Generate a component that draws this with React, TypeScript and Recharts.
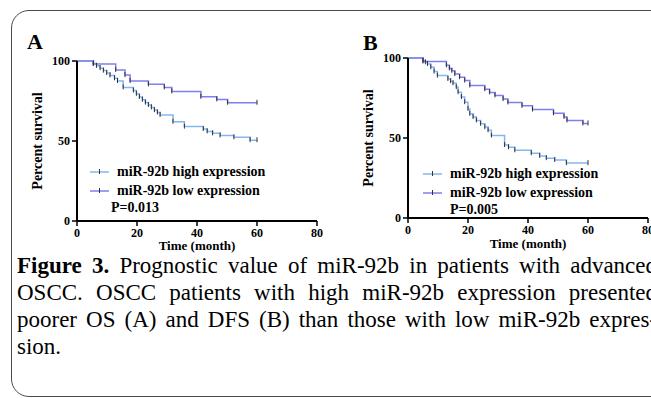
import React from 'react';
import { LineChart, Line, XAxis, YAxis, Legend } from 'recharts';

// ---- Panel A (OS) ----
const osHighTime = [0, 5.5, 6.5, 7.7, 8.8, 9.9, 11, 12.5, 13.5, 15.4, 18.8, 19.8, 20.8, 21.8, 22.8, 23.8, 24.8, 25.8, 26.8, 27.7, 32, 35.8, 42.1, 43.4, 45.2, 47.7, 52.3, 57.7, 60];
const osHighSurv = [100, 98.5, 97, 95.5, 94, 92.5, 91, 89.2, 87.5, 83.5, 81.5, 79.5, 77.5, 75.8, 74, 72.5, 71, 69.3, 67.8, 66.3, 62, 59, 57.5, 56, 54.8, 53.5, 52.3, 50.5, 50.5];
const osLowTime = [0, 5.4, 12.9, 16, 17.7, 23.8, 29.1, 31.6, 41.3, 46.6, 50.2, 60];
const osLowSurv = [100, 98.1, 94.4, 91.2, 87.5, 85.4, 83.5, 81, 77.6, 76, 73.9, 73.9];

// ---- Panel B (DFS) ----
const dfsHighTime = [0, 5, 5.8, 6.5, 7.6, 8.7, 9.8, 13.3, 14.2, 15, 16.1, 16.7, 17.8, 18.9, 20, 20.6, 21.7, 22.8, 24.2, 25.6, 26.7, 27.8, 32.2, 33.5, 35.6, 41.1, 43.9, 46.1, 48.9, 52.8, 60];
const dfsHighSurv = [100, 98.4, 97.3, 96.3, 94.2, 91.5, 89, 86.9, 85.5, 84.2, 81.8, 78.6, 75.6, 72.4, 68.2, 65.1, 63.1, 61, 58.9, 56.8, 54.8, 51.5, 45.6, 44.2, 42.3, 40.5, 38.8, 37.4, 36.3, 34.3, 34.3];
const dfsLowTime = [0, 5, 12.8, 13.8, 14.6, 15.6, 17.2, 18.9, 20.6, 25.6, 27.2, 29, 31.7, 33.3, 38, 41.5, 48.5, 52, 53, 58.3, 60];
const dfsLowSurv = [100, 97.8, 95.4, 93.5, 92, 90, 88, 85.9, 82.8, 80.5, 78.5, 76.6, 74.3, 72.2, 70.1, 67.8, 65.5, 63.2, 61, 59.1, 59.1];

const xTicks = [0, 20, 40, 60, 80];
const yTicks = [0, 50, 100];
const seriesNames = ['miR-92b high expression', 'miR-92b low expression'];
const pValues = ['P=0.013', 'P=0.005'];
const captionBold = 'Figure 3.';
const captionLines = [
  ' Prognostic value of miR-92b in patients with advanced',
  'OSCC. OSCC patients with high miR-92b expression presented',
  'poorer OS (A) and DFS (B) than those with low miR-92b expres-',
  'sion.',
];

const HIGH_COLOR = '#86b6f2';
const LOW_COLOR = '#7f7fee';
const SERIF = "'Liberation Serif', 'Times New Roman', serif";

const zip = (t: number[], s: number[]) => t.map((v, i) => ({ t: v, s: s[i] }));

const censorDot = (props: any) => {
  const { cx, cy, index } = props;
  if (index === 0 || cx == null || cy == null) return <g key={`d-${index}`} />;
  return <line key={`d-${index}-${cx}`} x1={cx} x2={cx} y1={cy - 3} y2={cy + 2} stroke="#333" strokeWidth={1} />;
};

const tickStyle = { fill: '#000', fontSize: 12, fontWeight: 'bold', fontFamily: SERIF } as any;

type LegendPos = { lineX: number; textX: number; rows: number[]; pX: number; pY: number };

const makeLegend = (pos: LegendPos, pText: string) => (props: any) => {
  const payload = props.payload || [];
  return (
    <div style={{ position: 'relative', width: 260, height: 80, fontFamily: SERIF, fontWeight: 'bold', fontSize: 14, color: '#000' }}>
      {payload.map((p: any, i: number) => (
        <React.Fragment key={i}>
          <svg style={{ position: 'absolute', left: pos.lineX, top: pos.rows[i] - 5 }} width={19} height={10}>
            <line x1={0} x2={19} y1={5} y2={5} stroke={p.color} strokeWidth={1.5} />
            <line x1={9.5} x2={9.5} y1={2} y2={7} stroke="#333" strokeWidth={1} />
          </svg>
          <div style={{ position: 'absolute', left: pos.textX, top: pos.rows[i] - 9, lineHeight: '18px', whiteSpace: 'nowrap' }}>{p.value}</div>
        </React.Fragment>
      ))}
      <div style={{ position: 'absolute', left: pos.pX, top: pos.pY - 9, lineHeight: '18px', whiteSpace: 'nowrap' }}>{pText}</div>
    </div>
  );
};

type PanelProps = {
  width: number;
  margin: { top: number; right: number; bottom: number; left: number };
  xAxisHeight: number;
  xLabelOffset: number;
  high: { t: number; s: number }[];
  low: { t: number; s: number }[];
  legendPos: LegendPos;
  pText: string;
};

const Panel = (p: PanelProps) => (
  <LineChart width={p.width} height={262} margin={p.margin}>
    <XAxis
      type="number"
      dataKey="t"
      domain={[0, 80]}
      ticks={xTicks}
      allowDataOverflow
      height={p.xAxisHeight}
      axisLine={{ stroke: '#000', strokeWidth: 2 }}
      tickLine={{ stroke: '#000', strokeWidth: 1.5 }}
      tickSize={5}
      tickMargin={2}
      tick={tickStyle}
      interval={0}
      label={{ value: 'Time (month)', position: 'insideBottom', offset: p.xLabelOffset, style: { fontFamily: SERIF, fontWeight: 'bold', fontSize: 13, fill: '#000' } }}
    />
    <YAxis
      type="number"
      dataKey="s"
      domain={[0, 100]}
      ticks={yTicks}
      width={60}
      axisLine={{ stroke: '#000', strokeWidth: 2 }}
      tickLine={{ stroke: '#000', strokeWidth: 1.5 }}
      tickSize={5}
      tickMargin={2}
      tick={tickStyle}
      interval={0}
      label={{ value: 'Percent survival', angle: -90, position: 'center', dx: -9.5, style: { fontFamily: SERIF, fontWeight: 'bold', fontSize: 14, fill: '#000' } }}
    />
    <Legend
      layout="vertical"
      align="center"
      verticalAlign="middle"
      wrapperStyle={{ left: 0, top: 150, width: 260, height: 80 }}
      content={makeLegend(p.legendPos, p.pText)}
    />
    <Line data={p.high} dataKey="s" name={seriesNames[0]} type="stepAfter" stroke={HIGH_COLOR} strokeWidth={1.5} dot={censorDot} activeDot={false} isAnimationActive={false} />
    <Line data={p.low} dataKey="s" name={seriesNames[1]} type="stepAfter" stroke={LOW_COLOR} strokeWidth={1.5} dot={censorDot} activeDot={false} isAnimationActive={false} />
  </LineChart>
);

export default function App() {
  return (
    <div style={{ position: 'absolute', left: 0, top: 0, width: 651, height: 398, overflow: 'hidden', background: '#fff', fontFamily: SERIF }}>
      <div style={{ position: 'absolute', left: 11, top: 10, width: 680, height: 387, border: '1px solid #4a4a4a', borderRadius: 18, boxSizing: 'border-box' }} />
      <div style={{ position: 'absolute', left: 27, top: 29, fontSize: 22, fontWeight: 'bold', lineHeight: '26px' }}>A</div>
      <div style={{ position: 'absolute', left: 363, top: 30, fontSize: 22, fontWeight: 'bold', lineHeight: '26px' }}>B</div>

      <div style={{ position: 'absolute', left: 0, top: 0 }}>
        <Panel
          width={330}
          margin={{ top: 61, right: 13, bottom: 0, left: 17 }}
          xAxisHeight={41}
          xLabelOffset={12}
          high={zip(osHighTime, osHighSurv)}
          low={zip(osLowTime, osLowSurv)}
          legendPos={{ lineX: 90, textX: 117, rows: [22.3, 40.7], pX: 111, pY: 58.3 }}
          pText={pValues[0]}
        />
      </div>
      <div style={{ position: 'absolute', left: 331, top: 0 }}>
        <Panel
          width={320}
          margin={{ top: 58, right: 3, bottom: 0, left: 17 }}
          xAxisHeight={44}
          xLabelOffset={14}
          high={zip(dfsHighTime, dfsHighSurv)}
          low={zip(dfsLowTime, dfsLowSurv)}
          legendPos={{ lineX: 92, textX: 119, rows: [24, 43.3], pX: 119, pY: 60 }}
          pText={pValues[1]}
        />
      </div>

      {captionLines.map((line, i) => (
        <div
          key={i}
          style={{
            position: 'absolute',
            left: 17,
            top: 252 + i * 27,
            width: 640,
            fontSize: 23,
            lineHeight: '27px',
            color: '#000',
            textAlign: i < 3 ? 'justify' : 'left',
            textAlignLast: i < 3 ? 'justify' : 'left',
          } as any}
        >
          {i === 0 ? <b>{captionBold}</b> : null}
          {line}
        </div>
      ))}
    </div>
  );
}
